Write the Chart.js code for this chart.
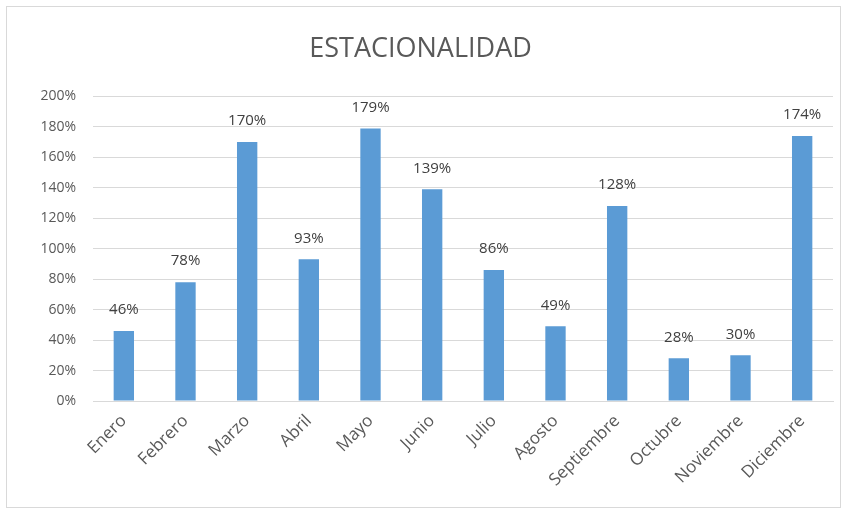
<!DOCTYPE html>
<html>
<head>
<meta charset="utf-8">
<script src="https://cdn.jsdelivr.net/npm/chart.js@4/dist/chart.umd.min.js"></script>
<style>
  html, body { margin: 0; padding: 0; background: #fff; }
  #wrap { width: 847px; height: 514px; position: relative; }
</style>
</head>
<body>
<div id="wrap"><canvas id="chart"></canvas></div>
<script>
const months = ["Enero", "Febrero", "Marzo", "Abril", "Mayo", "Junio", "Julio",
    "Agosto", "Septiembre", "Octubre", "Noviembre", "Diciembre"];
const seasonality = [46, 78, 170, 93, 179, 139, 86, 49, 128, 28, 30, 174];
const yMin = 0;
const yMax = 200;
const yStep = 20;

const fontFamily = "'Open Sans', 'Noto Sans', sans-serif";

// light frame round the whole chart, like the spreadsheet chart box
const frame = {
    id: "frame",
    beforeDraw(chart) {
        const c = chart.ctx;
        c.save();
        c.fillStyle = "#fff";
        c.fillRect(0, 0, chart.width, chart.height);
        c.strokeStyle = "#d9d9d9";
        c.lineWidth = 1;
        c.strokeRect(6.5, 6.5, chart.width - 13, chart.height - 13);
        c.restore();
    },
};

// value labels above each bar
const barLabels = {
    id: "barLabels",
    afterDatasetsDraw(chart) {
        const c = chart.ctx;
        const meta = chart.getDatasetMeta(0);
        c.save();
        c.font = `15px ${fontFamily}`;
        c.fillStyle = "#404040";
        c.textAlign = "center";
        c.textBaseline = "middle";
        meta.data.forEach((bar, i) => {
            c.fillText(seasonality[i] + "%", bar.x, bar.y - 21);
        });
        c.restore();
    },
};

new Chart(document.getElementById("chart"), {
    type: "bar",
    data: {
        labels: months,
        datasets: [{
            data: seasonality,
            backgroundColor: "#5b9bd5",
            categoryPercentage: 1,
            barPercentage: 0.33,
        }],
    },
    options: {
        responsive: true,
        maintainAspectRatio: false,
        animation: false,
        layout: { padding: { left: 8, right: 14, top: 0, bottom: 0 } },
        plugins: {
            legend: { display: false },
            tooltip: { enabled: false },
            title: {
                display: true,
                text: "ESTACIONALIDAD",
                color: "#595959",
                font: { family: fontFamily, size: 27, weight: "normal" },
                padding: { top: 33, bottom: 31 },
            },
        },
        scales: {
            x: {
                grid: { display: false, drawTicks: false },
                border: { color: "#d9d9d9" },
                ticks: {
                    color: "#595959",
                    font: { family: fontFamily, size: 17 },
                    minRotation: 45,
                    maxRotation: 45,
                    padding: 10,
                    autoSkip: false,
                },
                afterFit: (scale) => { scale.height = 113; },
            },
            y: {
                min: yMin,
                max: yMax,
                grid: { color: "#d9d9d9", drawTicks: false },
                border: { display: false },
                ticks: {
                    stepSize: yStep,
                    color: "#595959",
                    font: { family: fontFamily, size: 14 },
                    padding: 17,
                    callback: (v) => v + "%",
                },
                afterFit: (scale) => { scale.width = 85; },
            },
        },
    },
    plugins: [frame, barLabels],
});
</script>
</body>
</html>
